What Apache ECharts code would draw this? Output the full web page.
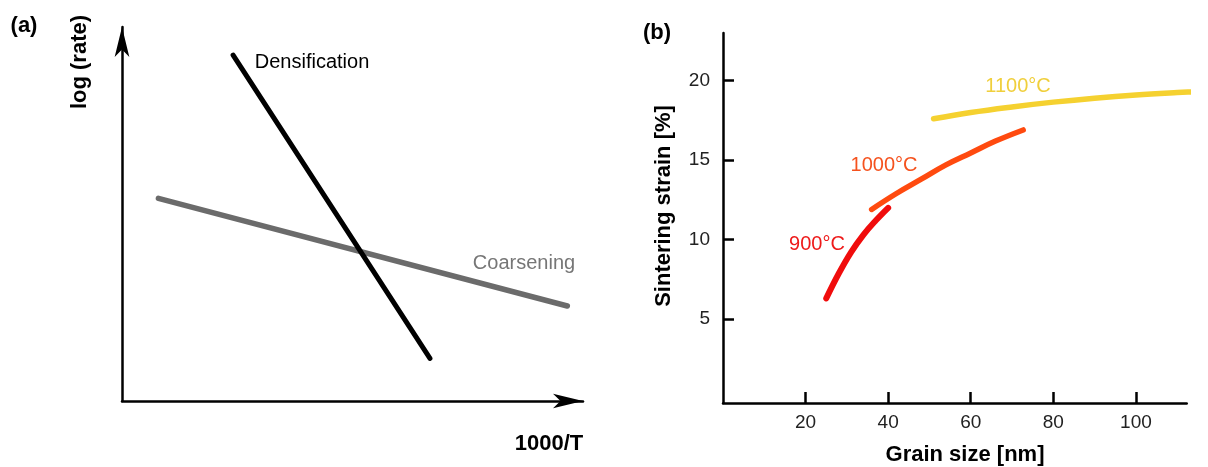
<!DOCTYPE html>
<html>
<head>
<meta charset="utf-8">
<script src="https://cdn.jsdelivr.net/npm/echarts@6/dist/echarts.min.js"></script>
<style>
  html, body { margin: 0; padding: 0; background: #fff; }
  #chart { width: 1208px; height: 467px; }
</style>
</head>
<body>
<div id="chart"></div>
<script>
// (a) schematic rates vs. inverse temperature (arbitrary units)
const densification = [[24.1, 92.5], [66.8, 11.4]];
const coarsening = [[7.9, 54.2], [96.6, 25.4]];

// (b) sintering strain [%] vs. grain size [nm]
const strain900 = [[25, 6.3], [28, 7.85], [31, 9.2], [34, 10.3], [37, 11.2], [40, 12.0]];
const strain1000 = [[36, 11.9], [42, 12.9], [48, 13.8], [54, 14.7], [60, 15.45], [66, 16.2], [72.7, 16.9]];
const strain1100 = [[51, 17.6], [60, 18.0], [70, 18.35], [80, 18.65], [90, 18.9], [100, 19.1], [110, 19.25], [118, 19.35]];

const grainTicks = [20, 40, 60, 80, 100];
const strainTicks = [5, 10, 15, 20];

const FONT = '"Liberation Sans", Arial, sans-serif';
const chart = echarts.init(document.getElementById('chart'));

function txt(text, x, y, size, opts) {
  opts = opts || {};
  return {
    type: 'text',
    x: x, y: y,
    rotation: opts.rotate ? Math.PI / 2 : 0,
    style: {
      text: text,
      fill: opts.color || '#000',
      font: (opts.bold ? 'bold ' : '') + size + 'px ' + FONT,
      textAlign: 'center',
      textVerticalAlign: 'middle'
    }
  };
}

const arrowAxisLine = {
  show: true,
  onZero: false,
  symbol: ['none', 'arrow'],
  symbolSize: [11, 30],
  lineStyle: { color: '#000', width: 2.5 }
};

chart.setOption({
  animation: false,
  backgroundColor: '#fff',
  grid: [
    { left: 122, top: 27, width: 461, height: 374, outerBoundsMode: 'none' },
    { left: 723, top: 33, width: 463.7, height: 370, outerBoundsMode: 'none' }
  ],
  xAxis: [
    {
      gridIndex: 0, type: 'value', min: 0, max: 100,
      axisLine: arrowAxisLine,
      axisTick: { show: false }, axisLabel: { show: false }, splitLine: { show: false }
    },
    {
      gridIndex: 1, type: 'value', min: 0, max: 112.3,
      axisLine: { show: true, onZero: false, lineStyle: { color: '#000', width: 2.5 } },
      axisTick: { show: true, inside: true, length: 11, customValues: grainTicks,
                  lineStyle: { color: '#000', width: 2.5 } },
      axisLabel: { show: true, customValues: grainTicks, margin: 10,
                   color: '#222', fontSize: 19, fontFamily: FONT },
      splitLine: { show: false }
    }
  ],
  yAxis: [
    {
      gridIndex: 0, type: 'value', min: 0, max: 100,
      axisLine: arrowAxisLine,
      axisTick: { show: false }, axisLabel: { show: false }, splitLine: { show: false }
    },
    {
      gridIndex: 1, type: 'value', min: -0.28, max: 23,
      axisLine: { show: true, onZero: false, lineStyle: { color: '#000', width: 2.5 } },
      axisTick: { show: true, inside: true, length: 11, customValues: strainTicks,
                  lineStyle: { color: '#000', width: 2.5 } },
      axisLabel: { show: true, customValues: strainTicks, margin: 13,
                   color: '#222', fontSize: 19, fontFamily: FONT },
      splitLine: { show: false }
    }
  ],
  series: [
    { type: 'line', xAxisIndex: 0, yAxisIndex: 0, data: coarsening, showSymbol: false, clip: false,
      lineStyle: { color: '#6b6b6b', width: 5.5, cap: 'round' } },
    { type: 'line', xAxisIndex: 0, yAxisIndex: 0, data: densification, showSymbol: false, clip: false,
      lineStyle: { color: '#000', width: 5, cap: 'round' } },
    { type: 'line', xAxisIndex: 1, yAxisIndex: 1, data: strain1100, showSymbol: false, smooth: 0.4, clip: false,
      lineStyle: { color: '#f5d130', width: 5.5, cap: 'round' } },
    { type: 'line', xAxisIndex: 1, yAxisIndex: 1, data: strain1000, showSymbol: false, smooth: 0.4, clip: false,
      lineStyle: { color: '#ff4a0f', width: 5.5, cap: 'round' } },
    { type: 'line', xAxisIndex: 1, yAxisIndex: 1, data: strain900, showSymbol: false, smooth: 0.4, clip: false,
      lineStyle: { color: '#f00c0c', width: 6, cap: 'round' } }
  ],
  graphic: [
    txt('(a)', 24, 26, 22, { bold: true }),
    txt('log (rate)', 80, 62, 22, { bold: true, rotate: true }),
    txt('1000/T', 549, 444, 22, { bold: true }),
    txt('Densification', 312, 62, 20),
    txt('Coarsening', 524, 263, 20, { color: '#767676' }),
    txt('(b)', 657, 33, 22, { bold: true }),
    txt('Sintering strain [%]', 664, 206, 22, { bold: true, rotate: true }),
    txt('Grain size [nm]', 965, 455, 22, { bold: true }),
    txt('1100°C', 1018, 86, 20, { color: '#f0cf3c' }),
    txt('1000°C', 884, 165, 20, { color: '#f5521e' }),
    txt('900°C', 817, 244, 20, { color: '#ee1a1a' })
  ]
});
</script>
</body>
</html>
